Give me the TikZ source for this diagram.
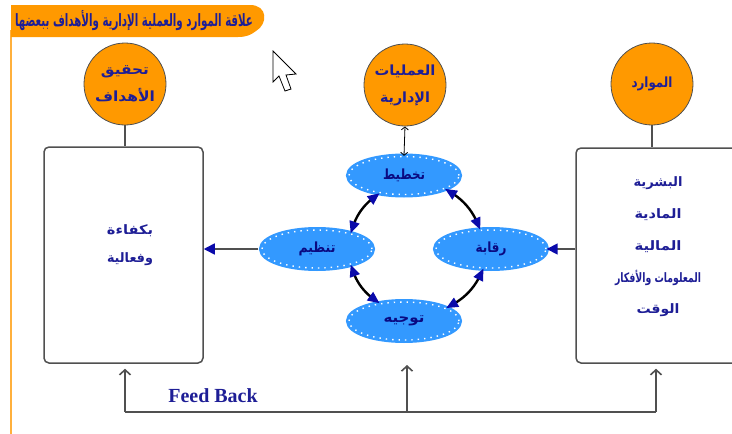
\documentclass[tikz,border=0pt]{standalone}
\usepackage{fontspec}
\setmainfont{Liberation Serif}
\newfontfamily\arabicfont[Script=Arabic]{DejaVu Sans}
\TeXXeTstate=1
\usetikzlibrary{arrows.meta,shapes.geometric,bending}
\definecolor{orng}{RGB}{255,153,0}
\definecolor{orngline}{RGB}{255,176,60}
\definecolor{txtblue}{RGB}{30,30,150}
\definecolor{elltxt}{RGB}{10,10,130}
\definecolor{ellblue}{RGB}{51,153,255}
\definecolor{tipblue}{RGB}{10,10,170}
\definecolor{linegray}{RGB}{80,80,80}
\newcommand{\ARW}[2]{\resizebox{#1pt}{\height}{#2}}
\begin{document}
\begin{tikzpicture}[x=1pt,y=-1pt,
  circ/.style={circle,fill=orng,draw=linegray,line width=0.8pt,minimum size=82pt,inner sep=0pt,
    align=center,text=txtblue,font=\arabicfont\bfseries\fontsize{14}{27}\selectfont},
  ell/.style={ellipse,minimum width=110pt,minimum height=38pt,inner sep=0pt,
    fill=ellblue,draw=white,line width=1.4pt,dash pattern=on 1.4pt off 5pt,
    preaction={draw=ellblue,solid,line width=6pt},
    text=elltxt,font=\arabicfont\bfseries\fontsize{14}{16}\selectfont},
  bigbox/.style={draw=linegray,line width=1.5pt,rounded corners=5pt,fill=white,inner sep=0pt},
  boxtext/.style={align=center,text=txtblue,inner sep=0pt},
  conn/.style={draw=linegray,line width=1.6pt},
  fbarrow/.style={conn,-{Straight Barb[length=5pt,width=11pt]}},
  bluehead/.style={conn,-{Triangle[length=11pt,width=11pt,color=tipblue]}},
  ring/.style={black,line width=2.4pt,
    {Triangle[length=12pt,width=10pt,color=tipblue]}-{Triangle[length=12pt,width=10pt,color=tipblue]}},
  thinlink/.style={black,line width=0.8pt,
    {Straight Barb[length=3pt,width=7pt]}-{Straight Barb[length=3pt,width=7pt]}}
]
\useasboundingbox (0,0) rectangle (732,434);
\clip (0,0) rectangle (732,434);
\fill[white] (0,0) rectangle (732,434);

% title banner
\draw[orngline,line width=1.5pt] (11,30) -- (11,434);
\fill[orng] (11,5) -- (250,5) .. controls (268,5) and (268,24) .. (256,31)
  .. controls (251,35) and (246,37) .. (238,37) -- (11,37) -- cycle;
\node[text=txtblue,inner sep=0pt,font=\arabicfont\bfseries\fontsize{17}{20}\selectfont] (title) at (134,21)
  {\ARW{238}{\beginR علاقة الموارد والعملية الإدارية والأهداف ببعضها\endR}};

% circles
\node[circ] (cgoal) at (125,84) {\ARW{48}{\beginR تحقيق\endR}\\\ARW{60}{\beginR الأهداف\endR}};
\node[circ] (cproc) at (405,85) {\ARW{61}{\beginR العمليات\endR}\\\ARW{50}{\beginR الإدارية\endR}};
\node[circ] (cres) at (652,84) {\ARW{41}{\beginR الموارد\endR}};

% boxes
\node[bigbox,minimum width=159pt,minimum height=216pt] (lbox) at (123.5,255) {};
\node[bigbox,minimum width=170pt,minimum height=215pt] (rbox) at (661,255.5) {};
\node[boxtext,font=\arabicfont\bfseries\fontsize{13}{28}\selectfont] (ltext) at (130,245)
  {\ARW{46}{\beginR بكفاءة\endR}\\\ARW{46}{\beginR وفعالية\endR}};
\node[boxtext,font=\arabicfont\bfseries\fontsize{13}{31.7}\selectfont] (rtext) at (658,247)
  {\ARW{49}{\beginR البشرية\endR}\\\ARW{47}{\beginR المادية\endR}\\\ARW{47}{\beginR المالية\endR}\\\ARW{86}{\beginR المعلومات والأفكار\endR}\\\ARW{43}{\beginR الوقت\endR}};

% ellipses
\node[ell] (plan) at (404,175.5) {\ARW{42}{\beginR تخطيط\endR}};
\node[ell] (org) at (317,249) {\ARW{37}{\beginR تنظيم\endR}};
\node[ell] (ctrl) at (491,249) {\ARW{31}{\beginR رقابة\endR}};
\node[ell] (dir) at (404,321) {\ARW{41}{\beginR توجيه\endR}};

% connectors
\draw[conn] (cgoal.south) -- (cgoal.south |- lbox.north);
\draw[conn] (cres.south) -- (cres.south |- rbox.north);
\draw[thinlink] (cproc.south) -- (plan.north);
\draw[bluehead] (ctrl.east -| rbox.west) -- (ctrl.east);
\draw[bluehead,shorten <=3pt] (org.west) -- (org.west -| lbox.east);

\draw[ring] (plan.216) to[bend right=20] (org.25);
\draw[ring] (plan.-18) to[bend left=20] (ctrl.119);
\draw[ring] (org.-25) to[bend right=20] (dir.144);
\draw[ring] (ctrl.249) to[bend left=20] (dir.17);

% feedback
\coordinate (fbL) at (125,412);
\coordinate (fbM) at (407,412);
\coordinate (fbR) at (656,412);
\coordinate (fbMtop) at (407,365);
\draw[conn] (fbL) -- (fbR);
\draw[fbarrow,shorten >=5pt] (fbL) -- (fbL |- lbox.south);
\draw[fbarrow] (fbM) -- (fbMtop);
\draw[fbarrow,shorten >=5pt] (fbR) -- (fbR |- rbox.south);
\node[anchor=base,text=txtblue,inner sep=0pt,font=\bfseries\fontsize{20}{24}\selectfont] (fbtext) at (213,402) {Feed Back};

% mouse pointer
\filldraw[fill=white,draw=black,line width=0.8pt] (273,51) -- (273,82) -- (279,76) -- (285,91)
  -- (291,89) -- (286,75) -- (296,74) -- cycle;
\end{tikzpicture}
\end{document}
